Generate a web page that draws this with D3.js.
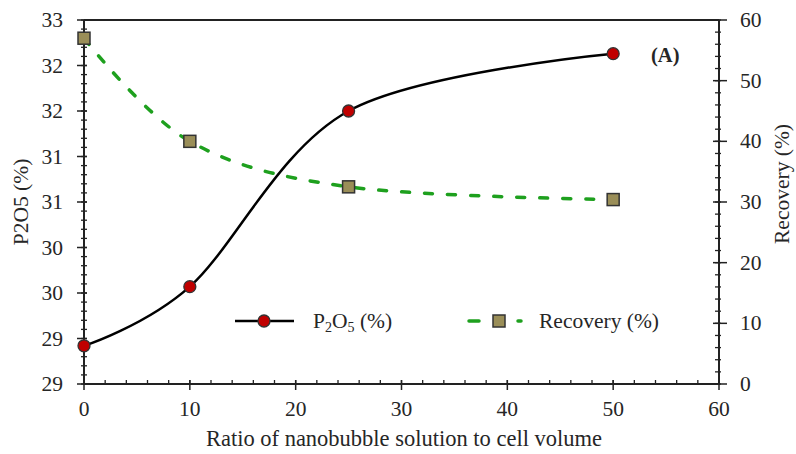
<!DOCTYPE html>
<html><head><meta charset="utf-8">
<script src="https://cdn.jsdelivr.net/npm/d3@7/dist/d3.min.js"></script>
<style>body{margin:0;background:#fff}svg{display:block}text{font-family:"Liberation Serif","Times New Roman",serif;fill:#262626}</style>
</head><body><svg id="c" width="796" height="454"></svg>
<script>
const ratio = [0, 10, 25, 50];
const p2o5 = [29.42, 30.07, 32.0, 32.63];
const recovery = [57.0, 40.0, 32.5, 30.4];
const xTicks = [0, 10, 20, 30, 40, 50, 60];
const leftTicks = [29, 29.5, 30, 30.5, 31, 31.5, 32, 32.5, 33];
const leftTickLabels = ["29", "29", "30", "30", "31", "31", "32", "32", "33"];
const rightTicks = [0, 10, 20, 30, 40, 50, 60];

const svg = d3.select("#c");
const L = 84, R = 719, T = 20, B = 384;
const FS = 21.5;
const x = d3.scaleLinear().domain([0, 60]).range([L, R]);
const yL = d3.scaleLinear().domain([29, 33]).range([B, T]);
const yR = d3.scaleLinear().domain([0, 60]).range([B, T]);

const ax = svg.append("g");
d3.range(0, 60.001, 2).forEach(v => ax.append("line").attr("x1", x(v)).attr("x2", x(v)).attr("y1", B - 4).attr("y2", B + 1).attr("stroke", "#222").attr("stroke-width", 1.3));
xTicks.forEach(v => ax.append("line").attr("x1", x(v)).attr("x2", x(v)).attr("y1", B - 4).attr("y2", B + 6).attr("stroke", "#222").attr("stroke-width", 1.5));
d3.range(29, 33.001, 0.1).forEach(v => ax.append("line").attr("x1", L - 3).attr("x2", L + 3).attr("y1", yL(v)).attr("y2", yL(v)).attr("stroke", "#222").attr("stroke-width", 1.3));
leftTicks.forEach(v => ax.append("line").attr("x1", L - 7).attr("x2", L + 3).attr("y1", yL(v)).attr("y2", yL(v)).attr("stroke", "#222").attr("stroke-width", 1.5));
d3.range(0, 60.001, 2).forEach(v => ax.append("line").attr("x1", R - 4).attr("x2", R + 2).attr("y1", yR(v)).attr("y2", yR(v)).attr("stroke", "#222").attr("stroke-width", 1.3));
rightTicks.forEach(v => ax.append("line").attr("x1", R - 6).attr("x2", R + 8).attr("y1", yR(v)).attr("y2", yR(v)).attr("stroke", "#222").attr("stroke-width", 1.5));
ax.append("line").attr("x1", L).attr("x2", R).attr("y1", B).attr("y2", B).attr("stroke", "#222").attr("stroke-width", 2);
ax.append("line").attr("x1", L).attr("x2", R).attr("y1", T).attr("y2", T).attr("stroke", "#222").attr("stroke-width", 2);
ax.append("line").attr("x1", L).attr("x2", L).attr("y1", T).attr("y2", B).attr("stroke", "#222").attr("stroke-width", 2);
ax.append("line").attr("x1", R).attr("x2", R).attr("y1", T).attr("y2", B).attr("stroke", "#222").attr("stroke-width", 2);

xTicks.forEach(v => svg.append("text").attr("x", x(v)).attr("y", 416).attr("text-anchor", "middle").attr("font-size", FS).text(v));
leftTicks.forEach((v, i) => svg.append("text").attr("x", 63).attr("y", yL(v) + 7).attr("text-anchor", "end").attr("font-size", FS).text(leftTickLabels[i]));
rightTicks.forEach(v => svg.append("text").attr("x", 740).attr("y", yR(v) + 7).attr("text-anchor", "start").attr("font-size", FS).text(v));

svg.append("text").attr("x", 404).attr("y", 446).attr("text-anchor", "middle").attr("font-size", 22.5).text("Ratio of nanobubble solution to cell volume");
svg.append("text").attr("transform", "translate(28,202) rotate(-90)").attr("text-anchor", "middle").attr("font-size", FS).text("P2O5 (%)");
svg.append("text").attr("transform", "translate(789,184) rotate(-90)").attr("text-anchor", "middle").attr("font-size", FS).text("Recovery (%)");

const lineR = d3.line().x((d, i) => x(ratio[i])).y(d => yR(d)).curve(d3.curveCardinal.tension(0));
svg.append("path").attr("d", lineR(recovery)).attr("fill", "none").attr("stroke", "#1ea01e").attr("stroke-width", 3.5).attr("stroke-linecap", "round").attr("stroke-dasharray", "8,15");
const lineP = d3.line().x((d, i) => x(ratio[i])).y(d => yL(d)).curve(d3.curveCardinal.tension(0));
svg.append("path").attr("d", lineP(p2o5)).attr("fill", "none").attr("stroke", "#000").attr("stroke-width", 2.5);

recovery.forEach((v, i) => svg.append("rect").attr("x", x(ratio[i]) - 6).attr("y", yR(v) - 6).attr("width", 12).attr("height", 12).attr("fill", "#9a8e58").attr("stroke", "#333").attr("stroke-width", 1.5));
p2o5.forEach((v, i) => svg.append("circle").attr("cx", x(ratio[i])).attr("cy", yL(v)).attr("r", 6).attr("fill", "#c00000").attr("stroke", "#333").attr("stroke-width", 1.3));

const ly = 321;
svg.append("line").attr("x1", 235).attr("x2", 294).attr("y1", ly).attr("y2", ly).attr("stroke", "#000").attr("stroke-width", 2.5);
svg.append("circle").attr("cx", 264).attr("cy", ly).attr("r", 6).attr("fill", "#c00000").attr("stroke", "#333").attr("stroke-width", 1.3);
const t1 = svg.append("text").attr("x", 313).attr("y", ly + 7).attr("font-size", FS);
t1.append("tspan").text("P");
t1.append("tspan").attr("font-size", 14).attr("dy", 4).text("2");
t1.append("tspan").attr("dy", -4).text("O");
t1.append("tspan").attr("font-size", 14).attr("dy", 4).text("5");
t1.append("tspan").attr("dy", -4).text(" (%)");
svg.append("line").attr("x1", 469).attr("x2", 479).attr("y1", ly).attr("y2", ly).attr("stroke", "#1ea01e").attr("stroke-width", 3.5).attr("stroke-linecap", "round");
svg.append("line").attr("x1", 518).attr("x2", 521).attr("y1", ly).attr("y2", ly).attr("stroke", "#1ea01e").attr("stroke-width", 3.5).attr("stroke-linecap", "round");
svg.append("rect").attr("x", 493).attr("y", ly - 6).attr("width", 12).attr("height", 12).attr("fill", "#9a8e58").attr("stroke", "#333").attr("stroke-width", 1.5);
svg.append("text").attr("x", 539).attr("y", ly + 7).attr("font-size", FS).text("Recovery (%)");

svg.append("text").attr("x", 651).attr("y", 62).attr("font-size", 20.5).attr("font-weight", "bold").text("(A)");
</script></body></html>
